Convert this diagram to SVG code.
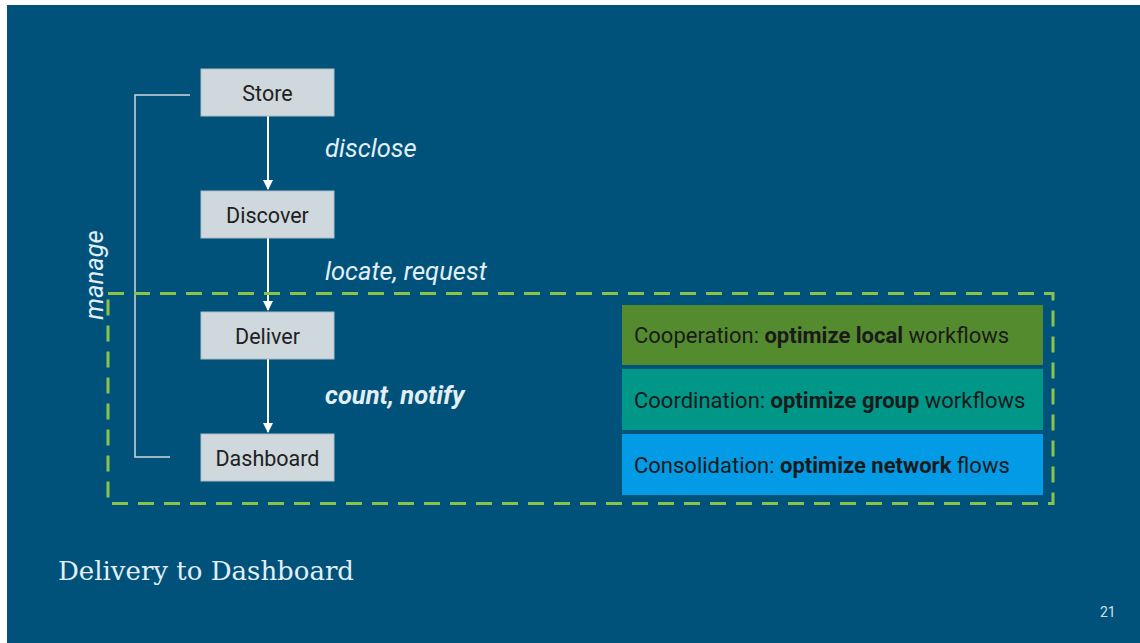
<svg xmlns="http://www.w3.org/2000/svg" width="1140" height="643" viewBox="0 0 1140 643">
<defs>
<style>
.node rect{fill:#cfd8dc;stroke:#b0bec5;stroke-width:1}
.node text{font-family:Roboto,"Liberation Sans",sans-serif;font-size:21.5px;fill:#212121;text-anchor:middle}
.lbl{font-family:Roboto,"Liberation Sans",sans-serif;font-size:25.5px;fill:#e3eef5;font-style:italic}
.band text{font-family:Roboto,"Liberation Sans",sans-serif;font-size:22px;fill:#1a1a1a}
.conn{stroke:#ffffff;stroke-width:2;fill:none}
</style>
<marker id="ah" viewBox="0 0 10 10" refX="9" refY="5" markerWidth="5" markerHeight="5" orient="auto">
<path d="M0,0 L10,5 L0,10 z" fill="#ffffff"/>
</marker>
</defs>
<rect x="0" y="0" width="1140" height="643" fill="#ffffff"/>
<rect x="7" y="5" width="1133" height="638" fill="#00527a"/>

<g id="connectors">
<line class="conn" x1="268" y1="116" x2="268" y2="189" marker-end="url(#ah)"/>
<line class="conn" x1="268" y1="238" x2="268" y2="310" marker-end="url(#ah)"/>
<line class="conn" x1="268" y1="359" x2="268" y2="432" marker-end="url(#ah)"/>
<polyline points="190,95 135,95 135,457 170,457" fill="none" stroke="#cfd8dc" stroke-width="1.5"/>
</g>

<rect id="scope" x="108" y="293.5" width="945" height="210" fill="none" stroke="#8bc34a" stroke-width="3" stroke-dasharray="16,10"/>

<g id="store" class="node"><rect x="201" y="69" width="133" height="47"/><text x="267.5" y="100.5">Store</text></g>
<g id="discover" class="node"><rect x="201" y="191" width="133" height="47"/><text x="267.5" y="222.5">Discover</text></g>
<g id="deliver" class="node"><rect x="201" y="312" width="133" height="47"/><text x="267.5" y="343.5">Deliver</text></g>
<g id="dashboard" class="node"><rect x="201" y="434" width="133" height="47"/><text x="267.5" y="465.5">Dashboard</text></g>

<text class="lbl" x="325" y="157">disclose</text>
<text class="lbl" x="325" y="280">locate, request</text>
<text class="lbl" x="325" y="404" font-weight="bold" fill="#ffffff">count, notify</text>
<text class="lbl" transform="translate(103,275) rotate(-90)" text-anchor="middle">manage</text>

<g id="cooperation" class="band"><rect x="622" y="305" width="421" height="60" fill="#558b2f"/><text x="634" y="343">Cooperation: <tspan font-weight="bold">optimize local</tspan> workflows</text></g>
<g id="coordination" class="band"><rect x="622" y="369" width="421" height="61" fill="#009688"/><text x="634" y="408">Coordination: <tspan font-weight="bold">optimize group</tspan> workflows</text></g>
<g id="consolidation" class="band"><rect x="622" y="434" width="421" height="61" fill="#039be5"/><text x="634" y="473">Consolidation: <tspan font-weight="bold">optimize network</tspan> flows</text></g>

<text x="58" y="580" font-family="'DejaVu Serif','Liberation Serif',serif" font-size="26" fill="#e3eef5">Delivery to Dashboard</text>
<text x="1100" y="617" font-family="Roboto,'Liberation Sans',sans-serif" font-size="14" fill="#cfe0ea">21</text>
</svg>
